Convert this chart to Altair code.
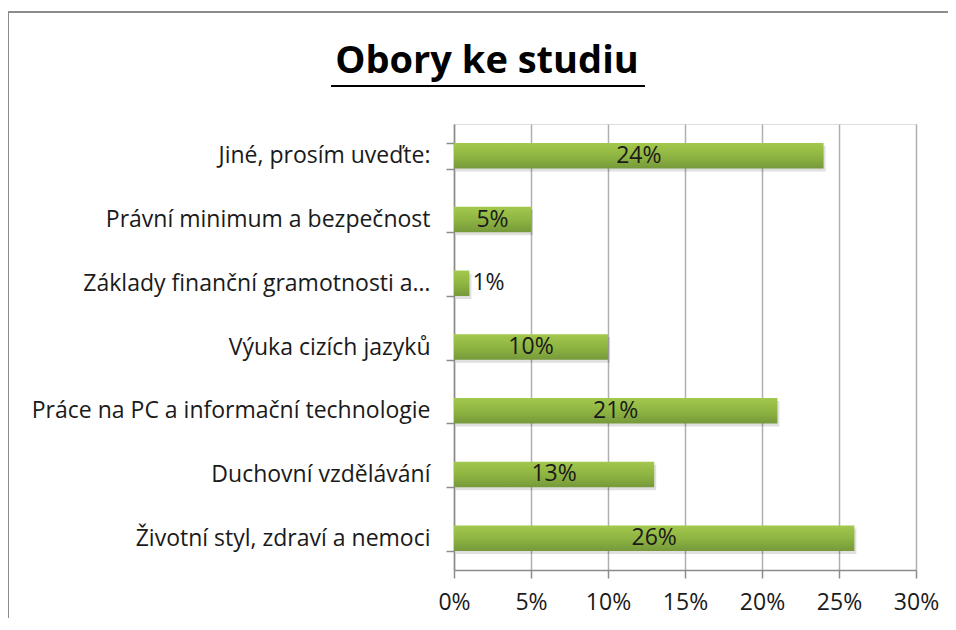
import altair as alt
import pandas as pd

categories = [
    "Jiné, prosím uveďte:",
    "Právní minimum a bezpečnost",
    "Základy finanční gramotnosti a…",
    "Výuka cizích jazyků",
    "Práce na PC a informační technologie",
    "Duchovní vzdělávání",
    "Životní styl, zdraví a nemoci",
]
values = [0.24, 0.05, 0.01, 0.10, 0.21, 0.13, 0.26]
labels = ["24%", "5%", "1%", "10%", "21%", "13%", "26%"]
x_ticks = [0, 0.05, 0.10, 0.15, 0.20, 0.25, 0.30]
title_text = "Obory ke studiu"

df = pd.DataFrame({"cat": categories, "val": values, "lab": labels})
df["mid"] = df["val"] / 2
df["inside"] = df["val"] >= 0.03

FONT = "Open Sans"
W, H = 462, 446

y_enc = alt.Y(
    "cat:N",
    sort=categories,
    scale=alt.Scale(paddingInner=0.6, paddingOuter=0.3),
    axis=alt.Axis(
        title=None,
        labelFont=FONT,
        labelFontSize=23,
        labelColor="#1a1a1a",
        labelPadding=16,
        tickBand="extent",
        tickSize=8,
        tickColor="#8c8c8c",
        domainColor="#8c8c8c",
        domainWidth=1.5,
        tickWidth=1.5,
        grid=False,
        labelLimit=440,
    ),
)

x_enc = alt.X(
    "val:Q",
    scale=alt.Scale(domain=[0, 0.30], nice=False),
    axis=alt.Axis(
        title=None,
        values=x_ticks,
        format=".0%",
        labelFont=FONT,
        labelFontSize=23,
        labelColor="#1a1a1a",
        labelPadding=13,
        labelFlush=False,
        tickSize=8,
        tickColor="#8c8c8c",
        tickWidth=1.5,
        domainColor="#8c8c8c",
        domainWidth=1.5,
        grid=True,
        gridColor="#b0b0b0",
        gridWidth=1.5,
    ),
)

base = alt.Chart(df)

shadow = base.mark_bar(color="#000000", opacity=0.12, xOffset=2, yOffset=3).encode(
    x=x_enc, y=y_enc
)

bars = base.mark_bar(
    color=alt.Gradient(
        gradient="linear",
        stops=[
            alt.GradientStop(color="#a2c84e", offset=0),
            alt.GradientStop(color="#8fb542", offset=0.5),
            alt.GradientStop(color="#76993a", offset=1),
        ],
        x1=0, x2=0, y1=0, y2=1,
    )
).encode(x=x_enc, y=y_enc)

text_in = base.transform_filter("datum.inside").mark_text(
    font=FONT, fontSize=23, color="#1a1a1a", align="center", baseline="middle"
).encode(x=alt.X("mid:Q"), y=alt.Y("cat:N", sort=categories), text="lab:N")

text_out = base.transform_filter("!datum.inside").mark_text(
    font=FONT, fontSize=23, color="#1a1a1a", align="left", baseline="middle", dx=3
).encode(x=alt.X("val:Q"), y=alt.Y("cat:N", sort=categories), text="lab:N")

one = pd.DataFrame({"t": [title_text]})

frame_top = alt.Chart(one).mark_rule(color="#8c8c8c", strokeWidth=2).encode(
    x=alt.value(-447), x2=alt.value(700), y=alt.value(-112)
)
frame_left = alt.Chart(one).mark_rule(color="#8c8c8c", strokeWidth=2).encode(
    x=alt.value(-446), y=alt.value(-113), y2=alt.value(700)
)

title = alt.Chart(one).mark_text(
    font=FONT, fontSize=38, fontWeight="bold", color="#000000",
    align="center", baseline="alphabetic"
).encode(x=alt.value(33), y=alt.value(-51), text="t:N")

underline = alt.Chart(one).mark_rule(
    color="#000000", strokeWidth=2
).encode(
    x=alt.value(-123), x2=alt.value(191), y=alt.value(-38)
)

chart = alt.layer(
    frame_top, frame_left, shadow, bars, text_in, text_out, title, underline
).properties(
    width=W,
    height=H,
    autosize=alt.AutoSizeParams(type="none"),
    padding={"left": 446, "top": 116, "right": 32, "bottom": 48},
).configure_view(stroke=None).configure(background="white")

chart.save("out.html", embed_options={"renderer": "svg", "actions": False})
